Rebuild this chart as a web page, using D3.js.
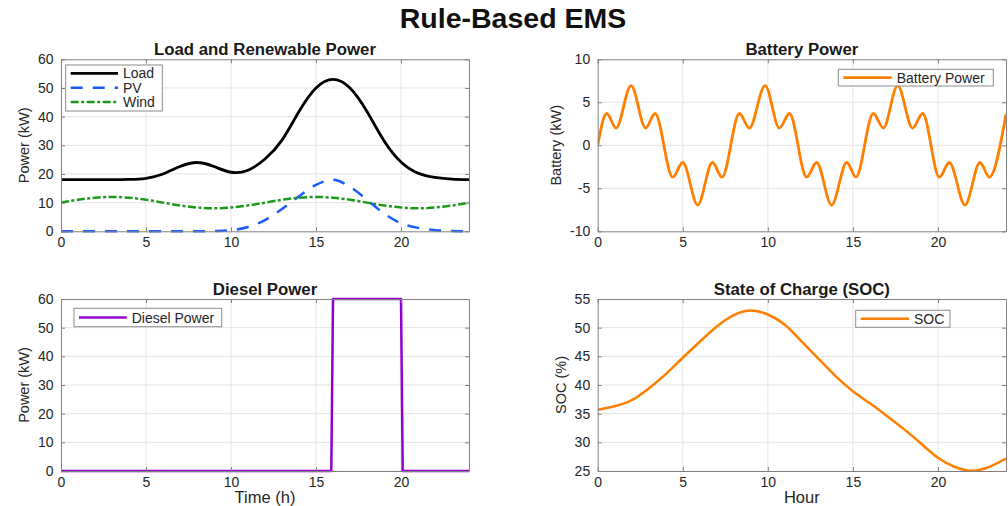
<!DOCTYPE html>
<html>
<head>
<meta charset="utf-8">
<script src="https://cdn.jsdelivr.net/npm/d3@7"></script>
<style>
  body { margin: 0; background: #fff; }
  svg { display: block; font-family: "Liberation Sans", Arial, Helvetica, sans-serif; }
</style>
</head>
<body>
<svg id="chart" width="1008" height="506"></svg>
<script>
"use strict";

// ---- data ----
var hours = [0, 1, 2, 3, 4, 5, 6, 7, 8, 9, 10, 11, 12, 13, 14, 15, 16, 17, 18, 19, 20, 21, 22, 23, 24];
var loadKW = [18, 18, 18, 18, 18.1, 18.5, 20, 22.6, 24, 22.6, 20.6, 21.3, 25.2, 31.8, 41.8, 50, 53, 50, 41.8, 31.6, 24.2, 20.3, 18.8, 18.2, 18];
var pvKW = [0, 0, 0, 0, 0, 0, 0, 0, 0, 0.1, 0.4, 1.5, 3.9, 7.8, 12.2, 16.2, 18, 15.5, 11, 6.2, 2.8, 1.2, 0.4, 0.1, 0];
var windKW = [10, 11, 11.7, 12, 11.7, 11, 10, 9, 8.3, 8, 8.3, 9, 10, 11, 11.7, 12, 11.7, 11, 10, 9, 8.3, 8, 8.3, 9, 10];

// battery power: turning points of the curve
var batteryHours = [0, 0.53, 1.08, 1.96, 2.82, 3.37, 4.41, 5.0, 5.88, 6.74, 7.31, 8.33, 8.91, 9.84, 10.68, 11.27,
    12.28, 12.87, 13.75, 14.64, 15.18, 16.2, 16.79, 17.63, 18.51, 19.1, 20.08, 20.67, 21.59, 22.47, 23.02, 24];
var batteryKW = [0, 3.7, 2.0, 6.95, 2.0, 3.7, -3.7, -2.0, -6.95, -2.0, -3.7, 3.7, 2.0, 6.95, 2.0, 3.7,
    -3.7, -2.0, -6.95, -2.0, -3.7, 3.7, 2.0, 6.95, 2.0, 3.7, -3.7, -2.0, -6.95, -2.0, -3.7, 3.6];

var dieselHours = [0, 15.9, 16, 20, 20.1, 24];
var dieselKW = [0, 0, 60, 60, 0, 0];

var socPct = [35.7, 36.3, 37.35, 39.4, 41.9, 44.75, 47.55, 50.2, 52.2, 53.0, 52.3, 50.5, 47.55, 44.5, 41.5, 38.9,
    36.8, 34.6, 32.3, 29.8, 27.3, 25.7, 25.05, 25.7, 27.15];

var xTicks = [0, 5, 10, 15, 20];
var powerTicks = [0, 10, 20, 30, 40, 50, 60];
var batteryTicks = [-10, -5, 0, 5, 10];
var socTicks = [25, 30, 35, 40, 45, 50, 55];

// ---- styles ----
var axisColor = "#808080";
var gridColor = "#e4e4e4";
var textColor = "#262626";

var svg = d3.select("#chart");

svg.append("text")
    .attr("x", 513).attr("y", 27.5)
    .attr("text-anchor", "middle")
    .style("font-size", "28.5px").style("font-weight", "bold").style("fill", "#111")
    .text("Rule-Based EMS");

var clipId = 0;

function panel(p) {
    var x = d3.scaleLinear().domain([0, 24]).range([p.x0, p.x1]);
    var y = d3.scaleLinear().domain(p.yDomain).range([p.y1, p.y0]);
    var g = svg.append("g");

    // grid
    g.selectAll(".gx").data(xTicks.slice(1)).enter().append("line")
        .attr("x1", function (d) { return x(d); }).attr("x2", function (d) { return x(d); })
        .attr("y1", p.y0).attr("y2", p.y1)
        .attr("stroke", gridColor).attr("stroke-width", 1);
    g.selectAll(".gy").data(p.yTicks.slice(1, -1)).enter().append("line")
        .attr("x1", p.x0).attr("x2", p.x1)
        .attr("y1", function (d) { return y(d); }).attr("y2", function (d) { return y(d); })
        .attr("stroke", gridColor).attr("stroke-width", 1);

    // clip for series
    clipId++;
    svg.append("clipPath").attr("id", "clip" + clipId)
        .append("rect")
        .attr("x", p.x0).attr("y", p.y0 - 2)
        .attr("width", p.x1 - p.x0).attr("height", p.y1 - p.y0 + 4);
    var plot = g.append("g").attr("clip-path", "url(#clip" + clipId + ")");

    p.series.forEach(function (s) {
        var line = d3.line()
            .x(function (d, i) { return x(s.xs[i]); })
            .y(function (d) { return y(d); })
            .curve(s.curve || d3.curveLinear);
        plot.append("path")
            .attr("d", line(s.ys))
            .attr("fill", "none")
            .attr("stroke", s.color)
            .attr("stroke-width", s.width || 2.5)
            .attr("stroke-dasharray", s.dash || null)
            .attr("stroke-linejoin", "round");
    });

    // axes: ticks point inward, on all four sides
    var fmt = function (d) { return String(d); };
    var bottom = g.append("g").attr("transform", "translate(0," + p.y1 + ")")
        .call(d3.axisBottom(x).tickValues(xTicks).tickSize(-4).tickSizeOuter(0).tickPadding(6).tickFormat(fmt));
    var left = g.append("g").attr("transform", "translate(" + p.x0 + ",0)")
        .call(d3.axisLeft(y).tickValues(p.yTicks).tickSize(-4).tickSizeOuter(0).tickPadding(7.5).tickFormat(fmt));
    var top = g.append("g").attr("transform", "translate(0," + p.y0 + ")")
        .call(d3.axisTop(x).tickValues(xTicks).tickSize(-4).tickSizeOuter(0).tickFormat(""));
    var right = g.append("g").attr("transform", "translate(" + p.x1 + ",0)")
        .call(d3.axisRight(y).tickValues(p.yTicks).tickSize(-4).tickSizeOuter(0).tickFormat(""));

    [bottom, left, top, right].forEach(function (a) {
        a.select(".domain").attr("stroke", axisColor);
        a.selectAll(".tick line").attr("stroke", axisColor);
        a.selectAll(".tick text")
            .style("font-size", "14px")
            .style("font-family", "'Liberation Sans', Arial, sans-serif")
            .attr("fill", textColor);
    });

    // titles and labels
    g.append("text")
        .attr("x", (p.x0 + p.x1) / 2).attr("y", p.y0 - 4.5)
        .attr("text-anchor", "middle")
        .style("font-size", "16.8px").style("font-weight", "bold").style("fill", "#1a1a1a")
        .text(p.title);
    g.append("text")
        .attr("transform", "translate(" + p.yLabelX + "," + (p.y0 + p.y1) / 2 + ") rotate(-90)")
        .attr("text-anchor", "middle")
        .style("font-size", "14.5px").style("fill", textColor)
        .text(p.yLabel);
    if (p.xLabel) {
        g.append("text")
            .attr("x", (p.x0 + p.x1) / 2).attr("y", p.y1 + 32)
            .attr("text-anchor", "middle")
            .style("font-size", "16.5px").style("fill", textColor)
            .text(p.xLabel);
    }

    // legend
    var L = p.legend;
    var lg = g.append("g");
    lg.append("rect")
        .attr("x", L.x).attr("y", L.y).attr("width", L.w).attr("height", L.h)
        .attr("fill", "#fff").attr("stroke", "#8c8c8c").attr("stroke-width", 1);
    p.series.forEach(function (s, i) {
        var cy = L.y + L.first + i * L.step;
        lg.append("line")
            .attr("x1", L.x + 5).attr("x2", L.x + 5 + L.sample)
            .attr("y1", cy).attr("y2", cy)
            .attr("stroke", s.color).attr("stroke-width", s.width || 2.5)
            .attr("stroke-dasharray", s.dash || null);
        lg.append("text")
            .attr("x", L.x + 10 + L.sample).attr("y", cy)
            .attr("dy", "0.36em")
            .style("font-size", "14px").style("fill", textColor)
            .text(s.name);
    });
}

panel({
    x0: 61, x1: 469, y0: 59.3, y1: 231.3,
    yDomain: [0, 60], yTicks: powerTicks,
    title: "Load and Renewable Power", yLabel: "Power (kW)", yLabelX: 29,
    series: [
        { name: "Load", xs: hours, ys: loadKW, color: "#000000", width: 2.8, curve: d3.curveNatural },
        { name: "PV", xs: hours, ys: pvKW, color: "#1a5cff", dash: "12,10", curve: d3.curveMonotoneX },
        { name: "Wind", xs: hours, ys: windKW, color: "#1a991a", dash: "8,2.5,3,2.5", curve: d3.curveNatural }
    ],
    legend: { x: 65.7, y: 65, w: 96.6, h: 46, first: 8.3, step: 14.4, sample: 47.3 }
});

panel({
    x0: 597.7, x1: 1006, y0: 59.3, y1: 231.3,
    yDomain: [-10, 10], yTicks: batteryTicks,
    title: "Battery Power", yLabel: "Battery (kW)", yLabelX: 561,
    series: [
        { name: "Battery Power", xs: batteryHours, ys: batteryKW, color: "#ff7f00", width: 2.8, curve: d3.curveMonotoneX }
    ],
    legend: { x: 838.3, y: 69.3, w: 155, h: 16.7, first: 8.4, step: 0, sample: 48.4 }
});

panel({
    x0: 61, x1: 469, y0: 299, y1: 471,
    yDomain: [0, 60], yTicks: powerTicks,
    title: "Diesel Power", yLabel: "Power (kW)", yLabelX: 29, xLabel: "Time (h)",
    series: [
        { name: "Diesel Power", xs: dieselHours, ys: dieselKW, color: "#8f00d1" }
    ],
    legend: { x: 74, y: 308.3, w: 147.7, h: 18.4, first: 9.2, step: 0, sample: 47.7 }
});

panel({
    x0: 597.7, x1: 1006, y0: 299, y1: 471,
    yDomain: [25, 55], yTicks: socTicks,
    title: "State of Charge (SOC)", yLabel: "SOC (%)", yLabelX: 566, xLabel: "Hour",
    series: [
        { name: "SOC", xs: hours, ys: socPct, color: "#ff7f00", curve: d3.curveNatural }
    ],
    legend: { x: 855.7, y: 310.3, w: 94.3, h: 17, first: 8.5, step: 0, sample: 48.3 }
});
</script>
</body>
</html>
